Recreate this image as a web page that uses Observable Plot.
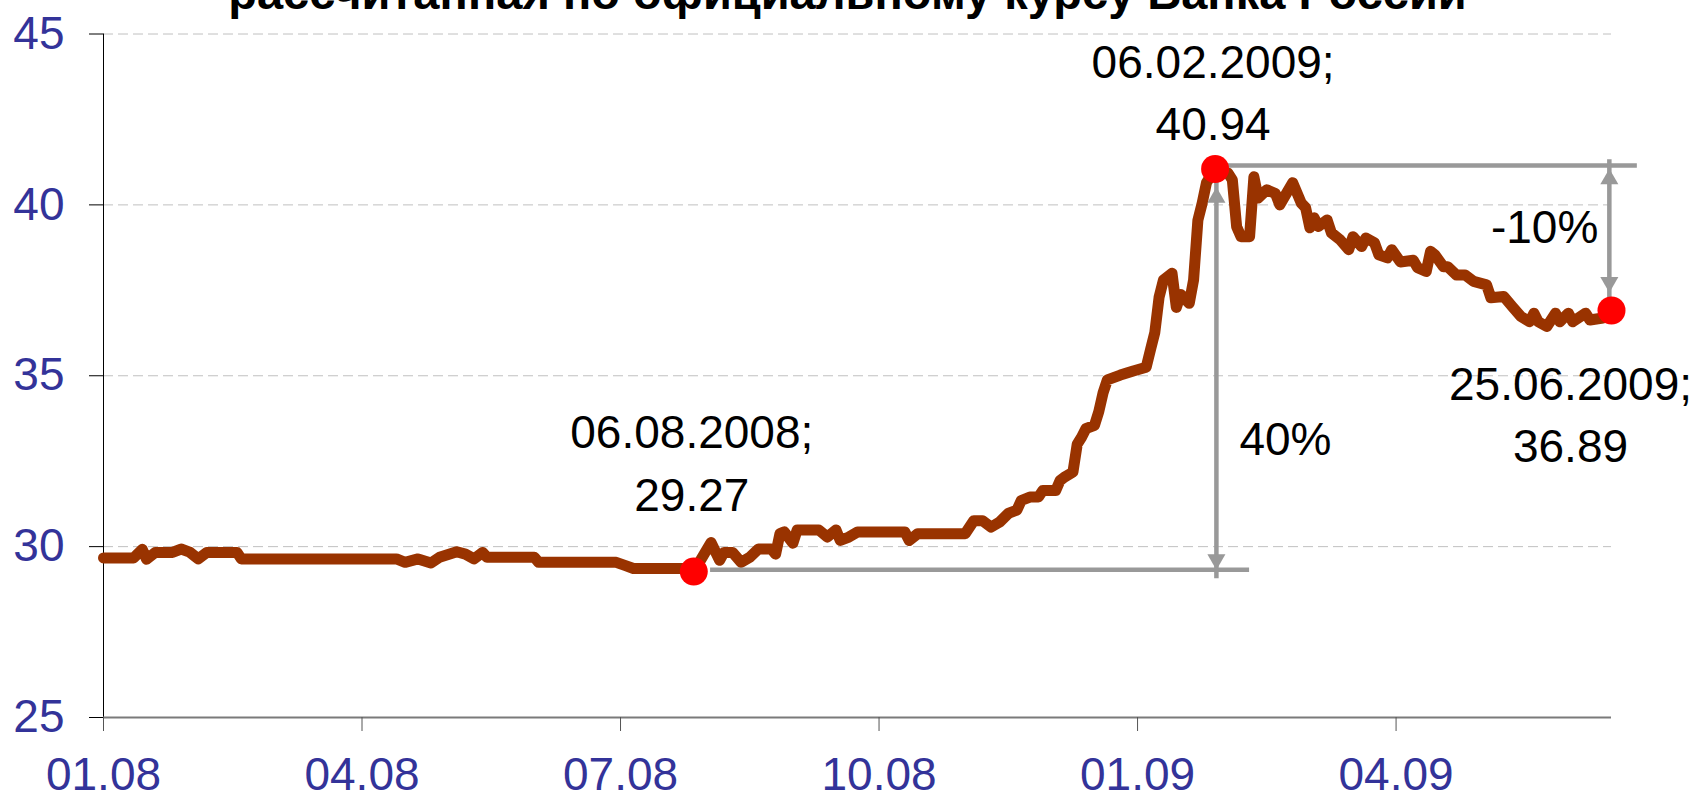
<!DOCTYPE html>
<html>
<head>
<meta charset="utf-8">
<script src="https://cdn.jsdelivr.net/npm/d3@7"></script>
<script src="https://cdn.jsdelivr.net/npm/@observablehq/plot@0.6"></script>
<style>
  html, body { margin: 0; padding: 0; background: #fff; }
  #wrap { position: relative; width: 1695px; height: 801px; overflow: hidden; }
  #title { position: absolute; left: 0; top: -31px; width: 1695px; text-align: center;
           font: bold 47px "Liberation Sans", Arial, sans-serif; line-height: 47px; color: #000; white-space: nowrap; }
  #chart { position: absolute; left: 0; top: 0; }
</style>
</head>
<body>
<div id="wrap">
  <div id="chart"></div>
  <div id="title">рассчитанная по официальному курсу Банка России</div>
</div>
<script>
// Trading-day index (category position) and value of the currency basket
const seriesIdx = [0,7,9,10,12,16,18,20,22,24,31,32,68,70,73,76,78,82,84,86,88,89,100,101,119,121,123,136,137,
  141,143,144,146,148,150,152,155,156,157,158,160,161,166,168,170,171,173,175,186,187,189,200,202,204,206,208,210,
  212,213,215,217,218,221,222,223,225,226,227,228,230,231,232,233,236,239,242,243,244,245,246,248,249,250,252,253,
  254,255,256,258,261,262,263,264,266,267,268,270,272,273,276,278,279,280,281,282,284,285,287,289,290,292,293,295,
  296,298,299,301,304,305,307,308,309,311,312,314,316,318,321,322,325,327,329,331,332,333,335,337,338,340,341,344,
  345,348,350];
const seriesVal = [29.67,29.67,29.92,29.63,29.83,29.83,29.93,29.84,29.64,29.83,29.83,29.64,29.64,29.54,29.64,29.52,
  29.69,29.85,29.78,29.64,29.83,29.69,29.69,29.54,29.54,29.45,29.36,29.36,29.27,
  30.12,29.60,29.83,29.83,29.54,29.69,29.93,29.93,29.78,30.38,30.43,30.10,30.49,30.49,30.28,30.49,30.18,30.28,30.43,
  30.43,30.18,30.38,30.38,30.76,30.76,30.57,30.72,30.97,31.07,31.35,31.45,31.45,31.64,31.64,31.93,32.03,32.18,33.0,
  33.2,33.45,33.55,33.95,34.5,34.88,35.02,35.14,35.25,35.76,36.26,37.3,37.8,38.0,37.0,37.38,37.12,37.8,
  39.55,40.05,40.65,41.05,40.93,40.73,39.36,39.07,39.07,40.82,40.2,40.44,40.33,40.0,40.65,40.05,39.92,39.33,39.62,
  39.37,39.56,39.18,38.98,38.69,39.07,38.78,39.03,38.89,38.54,38.45,38.69,38.33,38.38,38.16,38.05,38.64,38.54,38.19,
  38.19,37.95,37.95,37.76,37.66,37.28,37.32,37.02,36.73,36.58,36.83,36.58,36.44,36.83,36.58,36.83,36.58,36.83,
  36.63,36.69,36.91];

const tickIdx = [0, 60, 120, 180, 240, 300];
const tickLabels = ["01.08", "04.08", "07.08", "10.08", "01.09", "04.09"];
const yTicks = [25, 30, 35, 40, 45];
const gridTicks = [30, 35, 40, 45];

// highlighted points
const markIdx = [137, 258, 350];
const markVal = [29.27, 41.05, 36.91];
const markDate = ["06.08.2008;", "06.02.2009;", "25.06.2009;"];
const markText = ["29.27", "40.94", "36.89"];

// change arrows
const arrowIdx = [258.3, 349.5];
const arrowFrom = [29.32, 37.43];
const arrowTo = [40.52, 41.06];
const changeText = ["40%", "-10%"];

// reference levels
const levelFrom = [140.9, 261];
const levelTo = [266, 356];
const levelVal = [29.32, 41.15];

const series = seriesIdx.map((d, i) => ({i: d, v: seriesVal[i]}));
const marks = markIdx.map((d, i) => ({i: d, v: markVal[i], label: markDate[i] + "\n" + markText[i]}));
const arrows = arrowIdx.map((d, i) => ({i: d, lo: arrowFrom[i], hi: arrowTo[i], t: changeText[i]}));
const levels = levelVal.map((v, i) => ({x1: levelFrom[i], x2: levelTo[i], v}));

const FONT = "'Liberation Sans', Arial, sans-serif";
const GRAY = "#999999";
const BLUE = "#333399";

const chart = Plot.plot({
  width: 1695,
  height: 801,
  marginLeft: 103,
  marginRight: 84,
  marginTop: 33.5,
  marginBottom: 84,
  style: {fontFamily: FONT, fontSize: "46px", background: "white", overflow: "visible"},
  x: {type: "linear", domain: [0, 350]},
  y: {domain: [25, 45]},
  marks: [
    Plot.ruleY(gridTicks, {stroke: "#c0c0c0", strokeWidth: 1, strokeDasharray: "10,5"}),
    Plot.ruleX([0], {y1: 25, y2: 45, stroke: "black", strokeWidth: 1}),
    Plot.axisY({ticks: yTicks, tickSize: 14, tickPadding: 25, fontSize: 46, fill: BLUE, stroke: "black",
      tickFormat: d => String(d), label: null}),
    Plot.ruleY([25], {stroke: "#7a7a7a", strokeWidth: 2}),
    Plot.axisX({ticks: tickIdx, tickSize: 14, tickPadding: 26, fontSize: 46, fill: BLUE, stroke: "#555",
      tickFormat: d => tickLabels[tickIdx.indexOf(d)], label: null}),
    Plot.line(series, {x: "i", y: "v", stroke: "#993300", strokeWidth: 11,
      strokeLinejoin: "round", strokeLinecap: "round", curve: "linear"}),
    Plot.ruleY(levels, {x1: "x1", x2: "x2", y: "v", stroke: GRAY, strokeWidth: 4.5}),
    Plot.ruleX(arrows, {x: "i", y1: "lo", y2: "hi", stroke: GRAY, strokeWidth: 4.5, insetTop: 9, insetBottom: 9}),
    Plot.dot(arrows, {x: "i", y: "hi", symbol: "triangle", r: 6.7, fill: GRAY, stroke: "none", dy: 10.4}),
    Plot.dot(arrows, {x: "i", y: "lo", symbol: "triangle", r: 6.7, fill: GRAY, stroke: "none", rotate: 180, dy: -10.4}),
    Plot.dot(marks, {x: "i", y: "v", r: 14, fill: "#ff0000", stroke: "none"}),
    Plot.text([marks[0]], {x: "i", y: "v", text: "label", fontSize: 46, fill: "black", lineAnchor: "bottom",
      lineHeight: 1.36, dx: -2, dy: -61}),
    Plot.text([marks[1]], {x: "i", y: "v", text: "label", fontSize: 46, fill: "black", lineAnchor: "bottom",
      lineHeight: 1.35, dx: -2, dy: -29}),
    Plot.text([marks[2]], {x: "i", y: "v", text: "label", fontSize: 46, fill: "black", lineAnchor: "bottom",
      lineHeight: 1.35, dx: -41, dy: 152}),
    Plot.text([arrows[0]], {x: "i", y: "lo", text: "t", fontSize: 46, fill: "black", lineAnchor: "bottom",
      textAnchor: "start", dx: 23, dy: -115}),
    Plot.text([arrows[1]], {x: "i", y: "lo", text: "t", fontSize: 46, fill: "black", lineAnchor: "bottom",
      textAnchor: "end", dx: -11, dy: -50})
  ]
});
document.getElementById("chart").appendChild(chart);
</script>
</body>
</html>
